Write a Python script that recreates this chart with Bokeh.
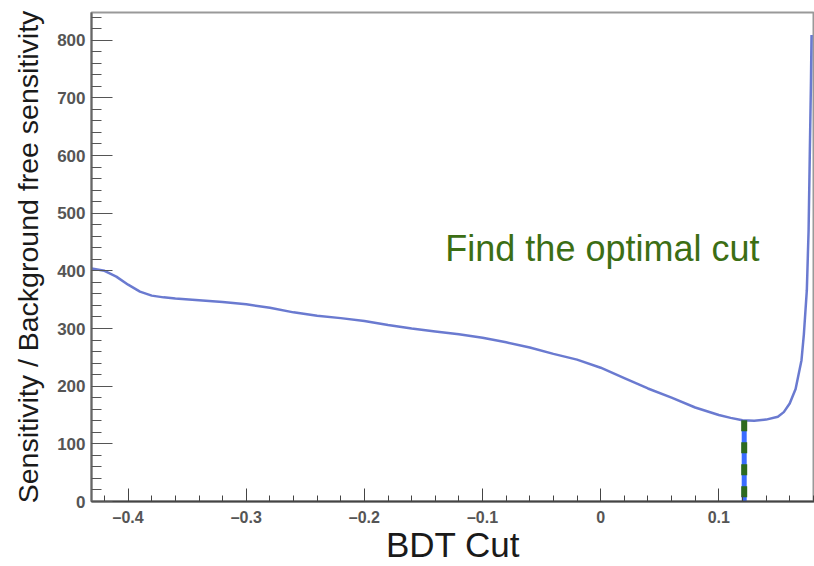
from bokeh.plotting import figure
from bokeh.models import Range1d, SingleIntervalTicker, CustomJSTickFormatter
from bokeh.core.properties import value
from bokeh.embed import file_html
from bokeh.resources import INLINE

# Sensitivity ratio vs. BDT cut value
bdt_cut = [-0.431, -0.42, -0.41, -0.40, -0.39, -0.38, -0.37, -0.36, -0.34, -0.32,
           -0.30, -0.28, -0.26, -0.24, -0.22, -0.20, -0.18, -0.16, -0.14, -0.12,
           -0.10, -0.08, -0.06, -0.04, -0.02, 0.00, 0.02, 0.04, 0.06, 0.08,
           0.10, 0.11, 0.12, 0.13, 0.14, 0.15, 0.155, 0.16, 0.165, 0.17,
           0.172, 0.1745, 0.176, 0.177, 0.178, 0.1785]
sensitivity_ratio = [404, 400, 390, 376, 364, 357, 354, 352, 349, 346,
                     342, 336, 328, 322, 318, 313, 306, 300, 295, 290,
                     284, 276, 267, 256, 246, 232, 214, 196, 180, 163,
                     150, 145, 141, 140, 142, 147, 155, 170, 195, 245,
                     290, 366, 470, 600, 727, 809]

# Chosen cut and the ratio reached there
optimal_cut = 0.1215
optimal_ratio = 141

annotation_text = "Find the optimal cut"
annotation_x = -0.1315
annotation_y = 438

FONT = "Liberation Sans"

p = figure(width=814, height=566, output_backend="svg", toolbar_location=None,
           x_range=Range1d(-0.431, 0.181), y_range=Range1d(0, 848),
           min_border_left=91, min_border_right=0, min_border_top=12,
           min_border_bottom=65)

p.background_fill_color = "white"
p.border_fill_color = "white"
p.outline_line_color = "#999999"
p.outline_line_width = 2
p.xgrid.visible = False
p.ygrid.visible = False

# x axis
xa = p.xaxis[0]
xa.ticker = SingleIntervalTicker(interval=0.1, num_minor_ticks=5)
xa.formatter = CustomJSTickFormatter(code="""
    if (Math.abs(tick) < 1e-9) { return "0"; }
    return (tick < 0 ? "\\u2013" : "") + Math.abs(tick).toFixed(1);
""")
xa.major_tick_in = 13
xa.major_tick_out = 0
xa.minor_tick_in = 6
xa.minor_tick_out = 0
xa.major_tick_line_color = "#444444"
xa.minor_tick_line_color = "#444444"
xa.axis_line_color = "#444444"
xa.axis_line_width = 2
xa.major_label_text_font = FONT
xa.major_label_text_font_size = "16px"
xa.major_label_text_font_style = "bold"
xa.major_label_text_color = "#555555"
xa.major_label_standoff = 7
xa.axis_label = "BDT Cut"
xa.axis_label_text_font = FONT
xa.axis_label_text_font_size = "35px"
xa.axis_label_text_font_style = "normal"
xa.axis_label_text_color = "#1a1a1a"
xa.axis_label_standoff = -4

# y axis
ya = p.yaxis[0]
ya.ticker = SingleIntervalTicker(interval=100, num_minor_ticks=5)
ya.major_tick_in = 21
ya.major_tick_out = 0
ya.minor_tick_in = 10
ya.minor_tick_out = 0
ya.major_tick_line_color = "#555555"
ya.minor_tick_line_color = "#555555"
ya.axis_line_color = "#666666"
ya.axis_line_width = 2
ya.major_label_text_font = FONT
ya.major_label_text_font_size = "17px"
ya.major_label_text_font_style = "bold"
ya.major_label_text_color = "#555555"
ya.major_label_standoff = 6
ya.axis_label = "Sensitivity / Background free sensitivity"
ya.axis_label_text_font = FONT
ya.axis_label_text_font_size = "28.5px"
ya.axis_label_text_font_style = "normal"
ya.axis_label_text_color = "#1a1a1a"
ya.axis_label_standoff = 10

# the ratio curve
p.line(bdt_cut, sensitivity_ratio, line_color="#5063c8", line_width=2.5, line_alpha=0.85)

# optimal cut marker: solid blue under a green dashed line
p.line([optimal_cut, optimal_cut], [optimal_ratio, 0], line_color="#3a6cff", line_width=5)
p.line([optimal_cut, optimal_cut], [optimal_ratio, 0], line_color="#2d6a1f",
       line_width=6, line_dash="11 11")

p.text(x=[annotation_x], y=[annotation_y], text=[annotation_text],
       text_font=value(FONT), text_font_size="36px", text_color="#3c6e14",
       text_align="left", text_baseline="alphabetic")

open("out.html", "w").write(file_html(p, INLINE))
